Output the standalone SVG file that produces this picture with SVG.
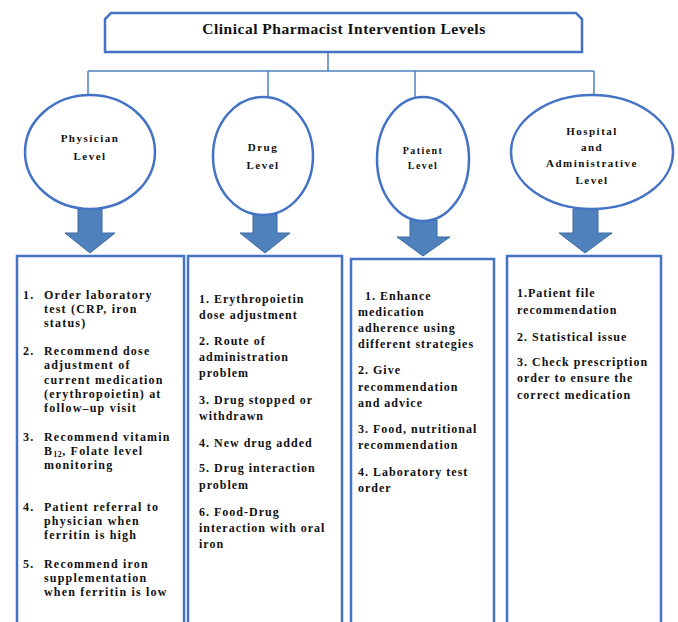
<svg xmlns="http://www.w3.org/2000/svg" width="678" height="622" viewBox="0 0 678 622">
<style>
.bx{fill:#fff;stroke:#4472C4;stroke-width:2.5}
.el{fill:#fff;stroke:#4472C4;stroke-width:2.5}
.ar{fill:#4F81BD;stroke:#3B6AA0;stroke-width:1}
.cn{fill:none;stroke:#4F81BD;stroke-width:1.5}
text{font-family:"Liberation Serif","Times New Roman",serif;font-weight:bold;fill:#111}
.t{font-size:15.5px;letter-spacing:0.5px}
.e{font-size:11px;letter-spacing:1.5px;text-anchor:middle}
.ep{font-size:10px;letter-spacing:1.4px;text-anchor:middle}
.b1{font-size:12px;letter-spacing:1.2px}
.b{font-size:12px;letter-spacing:1px}
</style>
<g id="connectors">
<path class="cn" d="M328 52V71M88 71H594M88 71V97M268 71V97M415 71V97M594 71V96"/>
<polygon class="ar" points="78,209 102,209 102,233 115,233 90,253 65,233 78,233"/>
<polygon class="ar" points="253,214 277,214 277,233 290,233 265,253 240,233 253,233"/>
<polygon class="ar" points="410,220 437,220 437,237 450,237 423,256 397,237 410,237"/>
<polygon class="ar" points="573,209 598,209 598,233 612,233 585,253 559,233 573,233"/>
</g>
<g id="title">
<path class="bx" d="M111 13H576L582 19V52H105V19Z"/>
<text class="t" x="344" y="34" text-anchor="middle">Clinical Pharmacist Intervention Levels</text>
</g>
<g id="physician">
<ellipse class="el" cx="90" cy="152" rx="65" ry="57"/>
<text class="e" x="90" y="142">Physician</text>
<text class="e" x="90" y="160">Level</text>
</g>
<g id="drug">
<ellipse class="el" cx="263" cy="156" rx="50" ry="59"/>
<text class="e" x="263" y="151">Drug</text>
<text class="e" x="263" y="169">Level</text>
</g>
<g id="patient">
<ellipse class="el" cx="423" cy="159" rx="46" ry="62"/>
<text class="ep" x="423" y="154">Patient</text>
<text class="ep" x="423" y="169">Level</text>
</g>
<g id="hospital">
<ellipse class="el" cx="592" cy="152" rx="81" ry="57"/>
<text class="e" x="592" y="135">Hospital</text>
<text class="e" x="592" y="151">and</text>
<text class="e" x="592" y="167">Administrative</text>
<text class="e" x="592" y="184">Level</text>
</g>
<g id="physician-box">
<rect class="bx" x="17" y="256" width="167" height="372"/>
<g class="b1">
<text x="23" y="299">1.</text><text x="44" y="299">Order laboratory</text>
<text x="44" y="313">test (CRP, iron</text>
<text x="44" y="327">status)</text>
<text x="23" y="355">2.</text><text x="44" y="355">Recommend dose</text>
<text x="44" y="369">adjustment of</text>
<text x="44" y="384">current medication</text>
<text x="44" y="398">(erythropoietin) at</text>
<text x="44" y="412">follow–up visit</text>
<text x="23" y="441">3.</text><text x="44" y="441">Recommend vitamin</text>
<text x="44" y="455">B<tspan font-size="8" letter-spacing="0.5" dy="2">12</tspan><tspan dy="-2">, Folate level</tspan></text>
<text x="44" y="469">monitoring</text>
<text x="23" y="511">4.</text><text x="44" y="511">Patient referral to</text>
<text x="44" y="525">physician when</text>
<text x="44" y="539">ferritin is high</text>
<text x="23" y="568">5.</text><text x="44" y="568">Recommend iron</text>
<text x="44" y="582">supplementation</text>
<text x="44" y="596">when ferritin is low</text>
</g>
</g>
<g id="drug-box">
<rect class="bx" x="188" y="256" width="154" height="372"/>
<g class="b">
<text x="199" y="303">1. Erythropoietin</text>
<text x="199" y="319">dose adjustment</text>
<text x="199" y="345">2. Route of</text>
<text x="199" y="361">administration</text>
<text x="199" y="377">problem</text>
<text x="199" y="404">3. Drug stopped or</text>
<text x="199" y="420">withdrawn</text>
<text x="199" y="447">4. New drug added</text>
<text x="199" y="472">5. Drug interaction</text>
<text x="199" y="489">problem</text>
<text x="199" y="516">6. Food-Drug</text>
<text x="199" y="532">interaction with oral</text>
<text x="199" y="548">iron</text>
</g>
</g>
<g id="patient-box">
<rect class="bx" x="351" y="259" width="143" height="372"/>
<g class="b">
<text x="365" y="300">1. Enhance</text>
<text x="358" y="316">medication</text>
<text x="358" y="332">adherence using</text>
<text x="358" y="348">different strategies</text>
<text x="358" y="374">2. Give</text>
<text x="358" y="391">recommendation</text>
<text x="358" y="407">and advice</text>
<text x="358" y="433">3. Food, nutritional</text>
<text x="358" y="449">recommendation</text>
<text x="358" y="476">4. Laboratory test</text>
<text x="358" y="492">order</text>
</g>
</g>
<g id="hospital-box">
<rect class="bx" x="507" y="256" width="154" height="372"/>
<g class="b">
<text x="517" y="297">1.Patient file</text>
<text x="517" y="314">recommendation</text>
<text x="517" y="341">2. Statistical issue</text>
<text x="517" y="366">3. Check prescription</text>
<text x="517" y="382">order to ensure the</text>
<text x="517" y="399">correct medication</text>
</g>
</g>
</svg>
